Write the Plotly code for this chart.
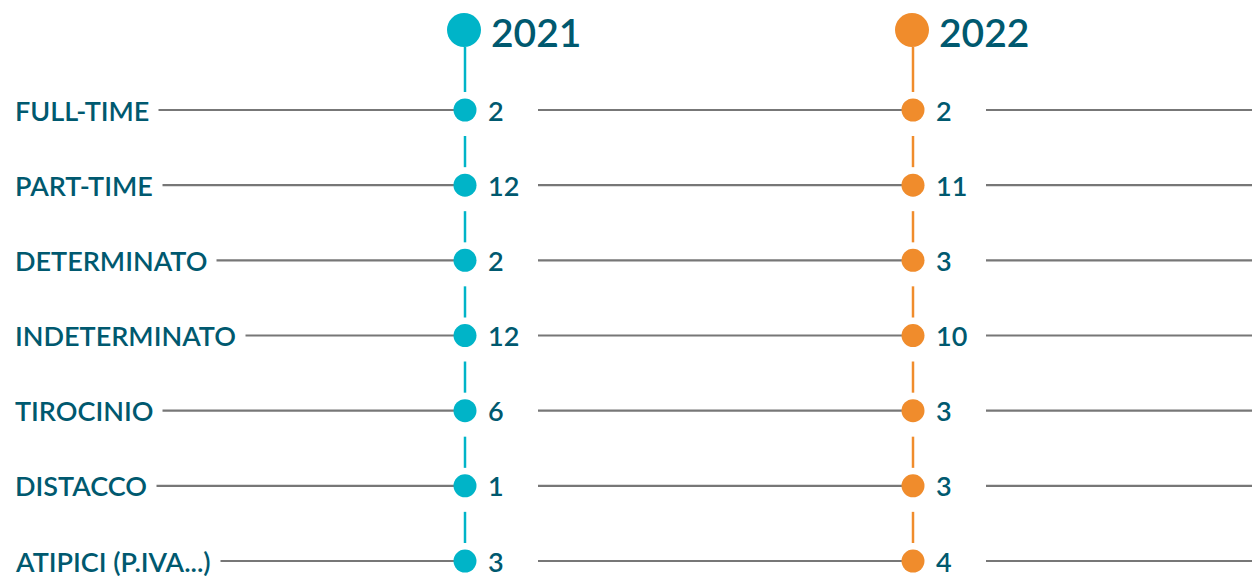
import plotly.graph_objects as go

categories = ["FULL-TIME", "PART-TIME", "DETERMINATO", "INDETERMINATO",
              "TIROCINIO", "DISTACCO", "ATIPICI (P.IVA...)"]
years = ["2021", "2022"]
values_2021 = [2, 12, 2, 12, 6, 1, 3]
values_2022 = [2, 11, 3, 10, 3, 3, 4]
series = [values_2021, values_2022]

colors = ["#00b4c8", "#f08c2c"]
text_color = "#00596f"
grey = "#777777"
font_family = "Lato, 'Open Sans', sans-serif"

W, H = 1252, 576
col_x = [465, 913]          # column centres (pixel units on x axis)
row_step = 75.17            # pixels per row
first_row_px = 110
header_px = 30

n = len(categories)
rows = list(range(n))
header_y = -(first_row_px - header_px) / row_step
y_top = -first_row_px / row_step
y_bot = (H - first_row_px) / row_step

fig = go.Figure()

# horizontal grey lines, broken around the value labels
gap_end = [538, 986]
hx, hy = [], []
for r in rows:
    segs = [(10, col_x[0]), (gap_end[0], col_x[1]), (gap_end[1], W)]
    for a, b in segs:
        hx += [a, b, None]
        hy += [r, r, None]
fig.add_trace(go.Scatter(x=hx, y=hy, mode="lines",
                         line=dict(color=grey, width=2.2),
                         hoverinfo="skip", showlegend=False))

# vertical connectors per year
dy_start = 26 / row_step
dy_end = 18 / row_step
header_r = 17 / row_step
for k, yr in enumerate(years):
    vx, vy = [], []
    prev = header_y
    for i, r in enumerate(rows):
        start = prev + (header_r if i == 0 else dy_start)
        vx += [col_x[k], col_x[k], None]
        vy += [start, r - dy_end, None]
        prev = r
    fig.add_trace(go.Scatter(x=vx, y=vy, mode="lines",
                             line=dict(color=colors[k], width=2.5),
                             hoverinfo="skip", showlegend=False))
    # header dot
    fig.add_trace(go.Scatter(x=[col_x[k] - 1], y=[header_y], mode="markers",
                             marker=dict(size=34, color=colors[k]),
                             hoverinfo="skip", showlegend=False))
    # row dots
    fig.add_trace(go.Scatter(x=[col_x[k]] * n, y=rows, mode="markers",
                             marker=dict(size=23, color=colors[k]),
                             name=yr, showlegend=False,
                             customdata=series[k],
                             hovertemplate="%{customdata}<extra>" + yr + "</extra>"))
    # header year text
    fig.add_annotation(x=col_x[k] + 24, y=header_y, text=yr, showarrow=False,
                       xanchor="left", yanchor="middle", yshift=-2,
                       font=dict(family=font_family, size=39, color=text_color, weight=600))
    # value labels
    for r, v in zip(rows, series[k]):
        fig.add_annotation(x=col_x[k] + 21, y=r, text=str(v), showarrow=False,
                           xanchor="left", yanchor="middle",
                           font=dict(family=font_family, size=27, color=text_color, weight=600))

# category labels with white background covering the line start
for r, c in zip(rows, categories):
    fig.add_annotation(x=5, y=r, text=c, showarrow=False,
                       xanchor="left", yanchor="middle",
                       bgcolor="white", borderpad=9,
                       font=dict(family=font_family, size=27, color=text_color, weight=600))

fig.update_xaxes(range=[0, W], visible=False, fixedrange=True)
fig.update_yaxes(range=[y_bot, y_top], visible=False, fixedrange=True)
fig.update_layout(width=W, height=H, margin=dict(l=0, r=0, t=0, b=0),
                  plot_bgcolor="white", paper_bgcolor="white", showlegend=False)

fig.write_html("out.html", config={"displayModeBar": False},
               post_script="document.body.style.margin='0px';document.body.style.overflow='hidden';")
